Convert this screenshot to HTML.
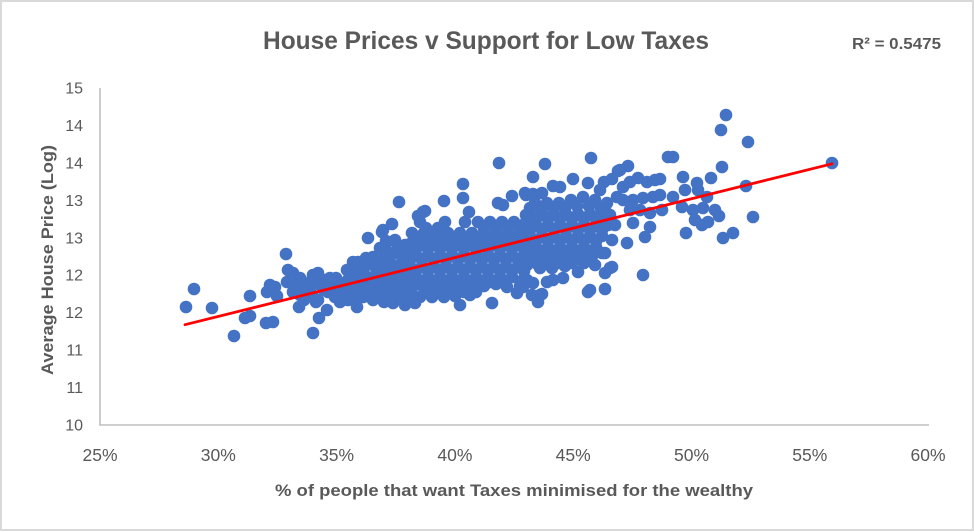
<!DOCTYPE html>
<html>
<head>
<meta charset="utf-8">
<style>
html,body{margin:0;padding:0;background:#fff;}
svg{display:block;}
text{font-family:"Liberation Sans",Arial,sans-serif;fill:#595959;}
</style>
</head>
<body>
<svg width="974" height="532" viewBox="0 0 974 532" xmlns="http://www.w3.org/2000/svg">
<rect x="1" y="1" width="972" height="529" fill="#fff" stroke="#D9D9D9" stroke-width="2"/>
<text x="486" y="49" font-size="25" font-weight="bold" text-anchor="middle" textLength="446" lengthAdjust="spacingAndGlyphs">House Prices v Support for Low Taxes</text>
<text x="852" y="49" font-size="16" font-weight="bold" textLength="89" lengthAdjust="spacingAndGlyphs">R² = 0.5475</text>

<g font-size="16" text-anchor="end">
<text x="83" y="430.5">10</text>
<text x="83" y="393">11</text>
<text x="83" y="355.6">11</text>
<text x="83" y="318.2">12</text>
<text x="83" y="280.7">12</text>
<text x="83" y="243.3">13</text>
<text x="83" y="205.9">13</text>
<text x="83" y="168.4">14</text>
<text x="83" y="131">14</text>
<text x="83" y="93.5">15</text>
</g>
<g font-size="17.5" text-anchor="middle">
<text x="100" y="461">25%</text>
<text x="218.3" y="461">30%</text>
<text x="336.6" y="461">35%</text>
<text x="454.9" y="461">40%</text>
<text x="573.2" y="461">45%</text>
<text x="691.5" y="461">50%</text>
<text x="809.8" y="461">55%</text>
<text x="928" y="461">60%</text>
</g>
<text x="514" y="496" font-size="17" font-weight="bold" text-anchor="middle" textLength="478" lengthAdjust="spacingAndGlyphs">% of people that want Taxes minimised for the wealthy</text>
<text transform="translate(53,260) rotate(-90)" x="0" y="0" font-size="17" font-weight="bold" text-anchor="middle" textLength="230" lengthAdjust="spacingAndGlyphs">Average House Price (Log)</text>

<g stroke="#BFBFBF" stroke-width="1.6" fill="none">
<line x1="100" y1="88" x2="100" y2="425"/>
<line x1="99.2" y1="425" x2="929" y2="425"/>
</g>

<g fill="#4472C4">
<circle cx="186" cy="307" r="6.3"/><circle cx="194" cy="289" r="6.3"/><circle cx="212" cy="308" r="6.3"/><circle cx="234" cy="336" r="6.3"/><circle cx="245" cy="318" r="6.3"/><circle cx="250" cy="316" r="6.3"/><circle cx="250" cy="296" r="6.3"/><circle cx="266" cy="323" r="6.3"/><circle cx="273" cy="322" r="6.3"/><circle cx="267" cy="292" r="6.3"/><circle cx="270" cy="285" r="6.3"/><circle cx="275" cy="287" r="6.3"/><circle cx="277" cy="296" r="6.3"/><circle cx="286" cy="254" r="6.3"/><circle cx="288" cy="270" r="6.3"/><circle cx="293" cy="273" r="6.3"/><circle cx="287" cy="282" r="6.3"/>

<circle cx="298" cy="283" r="6.3"/><circle cx="303" cy="287" r="6.3"/><circle cx="293" cy="292" r="6.3"/><circle cx="309" cy="288" r="6.3"/><circle cx="313" cy="297" r="6.3"/><circle cx="318" cy="300" r="6.3"/><circle cx="313" cy="275" r="6.3"/><circle cx="318" cy="273" r="6.3"/><circle cx="325" cy="280" r="6.3"/><circle cx="330" cy="278" r="6.3"/><circle cx="333" cy="283" r="6.3"/><circle cx="340" cy="285" r="6.3"/><circle cx="323" cy="287" r="6.3"/><circle cx="328" cy="292" r="6.3"/><circle cx="335" cy="297" r="6.3"/><circle cx="342" cy="295" r="6.3"/><circle cx="299" cy="307" r="6.3"/><circle cx="327" cy="310" r="6.3"/><circle cx="319" cy="318" r="6.3"/><circle cx="313" cy="333" r="6.3"/>
<circle cx="300" cy="278" r="6.3"/><circle cx="312" cy="280" r="6.3"/><circle cx="324" cy="290" r="6.3"/><circle cx="336" cy="278" r="6.3"/><circle cx="348" cy="280" r="6.3"/><circle cx="296" cy="290" r="6.3"/><circle cx="308" cy="292" r="6.3"/><circle cx="332" cy="290" r="6.3"/><circle cx="344" cy="290" r="6.3"/><circle cx="304" cy="300" r="6.3"/><circle cx="316" cy="302" r="6.3"/><circle cx="340" cy="302" r="6.3"/><circle cx="348" cy="300" r="6.3"/>
<circle cx="306" cy="284" r="6.3"/><circle cx="318" cy="284" r="6.3"/><circle cx="330" cy="284" r="6.3"/><circle cx="342" cy="284" r="6.3"/><circle cx="300" cy="295" r="6.3"/><circle cx="312" cy="295" r="6.3"/><circle cx="336" cy="295" r="6.3"/>

<circle cx="347" cy="270" r="6.3"/><circle cx="353" cy="262" r="6.3"/><circle cx="358" cy="273" r="6.3"/><circle cx="363" cy="277" r="6.3"/><circle cx="347" cy="292" r="6.3"/><circle cx="355" cy="298" r="6.3"/><circle cx="357" cy="307" r="6.3"/><circle cx="368" cy="238" r="6.3"/><circle cx="382" cy="232" r="6.3"/><circle cx="392" cy="224" r="6.3"/><circle cx="387" cy="242" r="6.3"/><circle cx="373" cy="257" r="6.3"/><circle cx="380" cy="262" r="6.3"/><circle cx="390" cy="253" r="6.3"/><circle cx="398" cy="253" r="6.3"/><circle cx="407" cy="255" r="6.3"/><circle cx="370" cy="283" r="6.3"/><circle cx="380" cy="290" r="6.3"/><circle cx="390" cy="285" r="6.3"/><circle cx="400" cy="280" r="6.3"/><circle cx="407" cy="277" r="6.3"/><circle cx="363" cy="297" r="6.3"/><circle cx="373" cy="300" r="6.3"/><circle cx="393" cy="303" r="6.3"/><circle cx="405" cy="305" r="6.3"/><circle cx="383" cy="273" r="6.3"/><circle cx="393" cy="270" r="6.3"/><circle cx="399" cy="202" r="6.3"/><circle cx="383" cy="290" r="6.3"/><circle cx="398" cy="293" r="6.3"/>
<circle cx="366" cy="258" r="6.3"/><circle cx="384" cy="258" r="6.3"/><circle cx="352" cy="268" r="6.3"/><circle cx="364" cy="268" r="6.3"/><circle cx="376" cy="268" r="6.3"/><circle cx="388" cy="266" r="6.3"/><circle cx="400" cy="268" r="6.3"/><circle cx="410" cy="268" r="6.3"/><circle cx="356" cy="280" r="6.3"/><circle cx="368" cy="280" r="6.3"/><circle cx="380" cy="280" r="6.3"/><circle cx="392" cy="278" r="6.3"/><circle cx="404" cy="288" r="6.3"/><circle cx="352" cy="290" r="6.3"/><circle cx="364" cy="290" r="6.3"/><circle cx="376" cy="292" r="6.3"/><circle cx="388" cy="296" r="6.3"/><circle cx="400" cy="296" r="6.3"/><circle cx="410" cy="292" r="6.3"/><circle cx="384" cy="302" r="6.3"/><circle cx="383" cy="230" r="6.3"/><circle cx="395" cy="240" r="6.3"/><circle cx="405" cy="245" r="6.3"/><circle cx="380" cy="248" r="6.3"/>
<circle cx="358" cy="262" r="6.3"/><circle cx="370" cy="262" r="6.3"/><circle cx="390" cy="262" r="6.3"/><circle cx="402" cy="262" r="6.3"/><circle cx="352" cy="274" r="6.3"/><circle cx="364" cy="274" r="6.3"/><circle cx="376" cy="274" r="6.3"/><circle cx="388" cy="274" r="6.3"/><circle cx="400" cy="274" r="6.3"/><circle cx="358" cy="285" r="6.3"/><circle cx="374" cy="285" r="6.3"/><circle cx="386" cy="285" r="6.3"/><circle cx="398" cy="285" r="6.3"/><circle cx="410" cy="285" r="6.3"/><circle cx="358" cy="297" r="6.3"/><circle cx="370" cy="297" r="6.3"/><circle cx="382" cy="297" r="6.3"/><circle cx="394" cy="297" r="6.3"/><circle cx="406" cy="297" r="6.3"/><circle cx="398" cy="247" r="6.3"/><circle cx="410" cy="250" r="6.3"/>

<circle cx="444" cy="201" r="6.3"/><circle cx="463" cy="198" r="6.3"/><circle cx="463" cy="184" r="6.3"/><circle cx="423" cy="212" r="6.3"/><circle cx="418" cy="216" r="6.3"/><circle cx="386" cy="241" r="6.3"/><circle cx="469" cy="212" r="6.3"/><circle cx="512" cy="196" r="6.3"/><circle cx="526" cy="195" r="6.3"/><circle cx="498" cy="203" r="6.3"/><circle cx="503" cy="205" r="6.3"/><circle cx="526" cy="215" r="6.3"/><circle cx="499" cy="163" r="6.3"/><circle cx="445" cy="222" r="6.3"/><circle cx="425" cy="211" r="6.3"/><circle cx="415" cy="303" r="6.3"/><circle cx="460" cy="305" r="6.3"/><circle cx="492" cy="303" r="6.3"/><circle cx="507" cy="287" r="6.3"/><circle cx="520" cy="286" r="6.3"/><circle cx="527" cy="265" r="6.3"/><circle cx="527" cy="280" r="6.3"/>

<circle cx="420" cy="222" r="6.3"/><circle cx="465" cy="222" r="6.3"/><circle cx="478" cy="222" r="6.3"/><circle cx="490" cy="222" r="6.3"/><circle cx="502" cy="222" r="6.3"/><circle cx="514" cy="222" r="6.3"/><circle cx="526" cy="222" r="6.3"/>
<circle cx="412" cy="233" r="6.3"/><circle cx="424" cy="233" r="6.3"/><circle cx="436" cy="233" r="6.3"/><circle cx="448" cy="233" r="6.3"/><circle cx="460" cy="233" r="6.3"/><circle cx="472" cy="233" r="6.3"/><circle cx="484" cy="233" r="6.3"/><circle cx="496" cy="233" r="6.3"/><circle cx="508" cy="233" r="6.3"/><circle cx="520" cy="233" r="6.3"/>
<circle cx="410" cy="244" r="6.3"/><circle cx="422" cy="244" r="6.3"/><circle cx="434" cy="244" r="6.3"/><circle cx="446" cy="244" r="6.3"/><circle cx="458" cy="244" r="6.3"/><circle cx="470" cy="244" r="6.3"/><circle cx="482" cy="244" r="6.3"/><circle cx="494" cy="244" r="6.3"/><circle cx="506" cy="244" r="6.3"/><circle cx="518" cy="244" r="6.3"/><circle cx="528" cy="244" r="6.3"/>
<circle cx="416" cy="255" r="6.3"/><circle cx="428" cy="255" r="6.3"/><circle cx="440" cy="255" r="6.3"/><circle cx="452" cy="255" r="6.3"/><circle cx="464" cy="255" r="6.3"/><circle cx="476" cy="255" r="6.3"/><circle cx="488" cy="255" r="6.3"/><circle cx="500" cy="255" r="6.3"/><circle cx="512" cy="255" r="6.3"/><circle cx="524" cy="255" r="6.3"/>
<circle cx="410" cy="266" r="6.3"/><circle cx="422" cy="266" r="6.3"/><circle cx="434" cy="266" r="6.3"/><circle cx="446" cy="266" r="6.3"/><circle cx="458" cy="266" r="6.3"/><circle cx="470" cy="266" r="6.3"/><circle cx="482" cy="266" r="6.3"/><circle cx="494" cy="266" r="6.3"/><circle cx="506" cy="266" r="6.3"/><circle cx="518" cy="266" r="6.3"/>
<circle cx="416" cy="277" r="6.3"/><circle cx="428" cy="277" r="6.3"/><circle cx="440" cy="277" r="6.3"/><circle cx="452" cy="277" r="6.3"/><circle cx="464" cy="277" r="6.3"/><circle cx="476" cy="277" r="6.3"/><circle cx="488" cy="277" r="6.3"/><circle cx="500" cy="277" r="6.3"/><circle cx="512" cy="277" r="6.3"/>
<circle cx="412" cy="288" r="6.3"/><circle cx="424" cy="288" r="6.3"/><circle cx="436" cy="288" r="6.3"/><circle cx="448" cy="288" r="6.3"/><circle cx="460" cy="288" r="6.3"/><circle cx="472" cy="288" r="6.3"/><circle cx="484" cy="286" r="6.3"/><circle cx="496" cy="284" r="6.3"/>
<circle cx="420" cy="297" r="6.3"/><circle cx="432" cy="297" r="6.3"/><circle cx="444" cy="297" r="6.3"/><circle cx="455" cy="296" r="6.3"/><circle cx="470" cy="295" r="6.3"/>
<circle cx="426" cy="228" r="6.3"/><circle cx="438" cy="228" r="6.3"/><circle cx="484" cy="228" r="6.3"/><circle cx="496" cy="228" r="6.3"/><circle cx="508" cy="228" r="6.3"/><circle cx="520" cy="228" r="6.3"/>
<circle cx="418" cy="238" r="6.3"/><circle cx="430" cy="238" r="6.3"/><circle cx="442" cy="238" r="6.3"/><circle cx="454" cy="238" r="6.3"/><circle cx="466" cy="238" r="6.3"/><circle cx="478" cy="238" r="6.3"/><circle cx="490" cy="238" r="6.3"/><circle cx="502" cy="238" r="6.3"/><circle cx="514" cy="238" r="6.3"/><circle cx="526" cy="238" r="6.3"/>
<circle cx="416" cy="249" r="6.3"/><circle cx="428" cy="249" r="6.3"/><circle cx="440" cy="249" r="6.3"/><circle cx="452" cy="249" r="6.3"/><circle cx="464" cy="249" r="6.3"/><circle cx="476" cy="249" r="6.3"/><circle cx="488" cy="249" r="6.3"/><circle cx="500" cy="249" r="6.3"/><circle cx="512" cy="249" r="6.3"/><circle cx="524" cy="249" r="6.3"/>
<circle cx="410" cy="260" r="6.3"/><circle cx="422" cy="260" r="6.3"/><circle cx="434" cy="260" r="6.3"/><circle cx="446" cy="260" r="6.3"/><circle cx="458" cy="260" r="6.3"/><circle cx="470" cy="260" r="6.3"/><circle cx="482" cy="260" r="6.3"/><circle cx="494" cy="260" r="6.3"/><circle cx="506" cy="260" r="6.3"/><circle cx="518" cy="260" r="6.3"/>
<circle cx="416" cy="271" r="6.3"/><circle cx="428" cy="271" r="6.3"/><circle cx="440" cy="271" r="6.3"/><circle cx="452" cy="271" r="6.3"/><circle cx="464" cy="271" r="6.3"/><circle cx="476" cy="271" r="6.3"/><circle cx="488" cy="271" r="6.3"/><circle cx="500" cy="271" r="6.3"/><circle cx="512" cy="271" r="6.3"/><circle cx="524" cy="271" r="6.3"/>
<circle cx="418" cy="282" r="6.3"/><circle cx="430" cy="282" r="6.3"/><circle cx="442" cy="282" r="6.3"/><circle cx="454" cy="282" r="6.3"/><circle cx="466" cy="282" r="6.3"/><circle cx="478" cy="282" r="6.3"/><circle cx="490" cy="282" r="6.3"/><circle cx="502" cy="282" r="6.3"/>
<circle cx="428" cy="292" r="6.3"/><circle cx="440" cy="292" r="6.3"/><circle cx="452" cy="292" r="6.3"/><circle cx="464" cy="292" r="6.3"/><circle cx="476" cy="292" r="6.3"/>

<circle cx="545" cy="164" r="6.3"/><circle cx="533" cy="177" r="6.3"/><circle cx="573" cy="179" r="6.3"/><circle cx="620" cy="170" r="6.3"/><circle cx="628" cy="166" r="6.3"/><circle cx="683" cy="177" r="6.3"/><circle cx="604" cy="182" r="6.3"/><circle cx="612" cy="179" r="6.3"/><circle cx="591" cy="158" r="6.3"/><circle cx="673" cy="157" r="6.3"/><circle cx="525" cy="193" r="6.3"/><circle cx="533" cy="194" r="6.3"/><circle cx="542" cy="193" r="6.3"/><circle cx="553" cy="186" r="6.3"/><circle cx="560" cy="187" r="6.3"/><circle cx="588" cy="183" r="6.3"/><circle cx="600" cy="190" r="6.3"/>
<circle cx="538" cy="302" r="6.3"/><circle cx="542" cy="294" r="6.3"/><circle cx="588" cy="292" r="6.3"/><circle cx="605" cy="289" r="6.3"/><circle cx="590" cy="290" r="6.3"/><circle cx="532" cy="295" r="6.3"/><circle cx="540" cy="295" r="6.3"/><circle cx="547" cy="282" r="6.3"/><circle cx="563" cy="278" r="6.3"/><circle cx="578" cy="272" r="6.3"/><circle cx="595" cy="265" r="6.3"/><circle cx="523" cy="280" r="6.3"/><circle cx="533" cy="283" r="6.3"/><circle cx="610" cy="268" r="6.3"/><circle cx="605" cy="273" r="6.3"/><circle cx="523" cy="287" r="6.3"/><circle cx="517" cy="293" r="6.3"/><circle cx="553" cy="280" r="6.3"/><circle cx="602" cy="253" r="6.3"/>
<circle cx="535" cy="203" r="6.3"/><circle cx="547" cy="203" r="6.3"/><circle cx="559" cy="203" r="6.3"/><circle cx="571" cy="200" r="6.3"/><circle cx="583" cy="197" r="6.3"/><circle cx="595" cy="200" r="6.3"/><circle cx="607" cy="203" r="6.3"/>
<circle cx="530" cy="214" r="6.3"/><circle cx="542" cy="214" r="6.3"/><circle cx="554" cy="214" r="6.3"/><circle cx="566" cy="214" r="6.3"/><circle cx="578" cy="214" r="6.3"/><circle cx="590" cy="214" r="6.3"/><circle cx="602" cy="214" r="6.3"/>
<circle cx="536" cy="225" r="6.3"/><circle cx="548" cy="225" r="6.3"/><circle cx="560" cy="225" r="6.3"/><circle cx="572" cy="225" r="6.3"/><circle cx="584" cy="225" r="6.3"/><circle cx="596" cy="225" r="6.3"/><circle cx="608" cy="225" r="6.3"/>
<circle cx="530" cy="236" r="6.3"/><circle cx="542" cy="236" r="6.3"/><circle cx="554" cy="236" r="6.3"/><circle cx="566" cy="236" r="6.3"/><circle cx="578" cy="236" r="6.3"/><circle cx="590" cy="236" r="6.3"/><circle cx="602" cy="236" r="6.3"/>
<circle cx="536" cy="247" r="6.3"/><circle cx="548" cy="247" r="6.3"/><circle cx="560" cy="247" r="6.3"/><circle cx="572" cy="247" r="6.3"/><circle cx="584" cy="247" r="6.3"/><circle cx="596" cy="247" r="6.3"/>
<circle cx="532" cy="258" r="6.3"/><circle cx="544" cy="258" r="6.3"/><circle cx="556" cy="258" r="6.3"/><circle cx="568" cy="258" r="6.3"/><circle cx="580" cy="258" r="6.3"/><circle cx="592" cy="256" r="6.3"/>
<circle cx="540" cy="268" r="6.3"/><circle cx="552" cy="268" r="6.3"/><circle cx="565" cy="266" r="6.3"/>
<circle cx="530" cy="208" r="6.3"/><circle cx="541" cy="208" r="6.3"/><circle cx="553" cy="208" r="6.3"/><circle cx="565" cy="208" r="6.3"/><circle cx="577" cy="206" r="6.3"/><circle cx="589" cy="206" r="6.3"/><circle cx="601" cy="208" r="6.3"/>
<circle cx="536" cy="219" r="6.3"/><circle cx="548" cy="219" r="6.3"/><circle cx="560" cy="219" r="6.3"/><circle cx="572" cy="219" r="6.3"/><circle cx="584" cy="219" r="6.3"/><circle cx="596" cy="219" r="6.3"/><circle cx="608" cy="219" r="6.3"/>
<circle cx="530" cy="230" r="6.3"/><circle cx="542" cy="230" r="6.3"/><circle cx="554" cy="230" r="6.3"/><circle cx="566" cy="230" r="6.3"/><circle cx="578" cy="230" r="6.3"/><circle cx="590" cy="230" r="6.3"/><circle cx="602" cy="230" r="6.3"/>
<circle cx="536" cy="241" r="6.3"/><circle cx="548" cy="241" r="6.3"/><circle cx="560" cy="241" r="6.3"/><circle cx="572" cy="241" r="6.3"/><circle cx="584" cy="241" r="6.3"/><circle cx="596" cy="241" r="6.3"/>
<circle cx="530" cy="252" r="6.3"/><circle cx="542" cy="252" r="6.3"/><circle cx="554" cy="252" r="6.3"/><circle cx="566" cy="252" r="6.3"/><circle cx="578" cy="252" r="6.3"/><circle cx="590" cy="252" r="6.3"/>
<circle cx="536" cy="263" r="6.3"/><circle cx="548" cy="263" r="6.3"/><circle cx="560" cy="263" r="6.3"/><circle cx="572" cy="263" r="6.3"/><circle cx="584" cy="263" r="6.3"/>

<circle cx="623" cy="187" r="6.3"/><circle cx="630" cy="182" r="6.3"/><circle cx="638" cy="178" r="6.3"/><circle cx="647" cy="182" r="6.3"/><circle cx="655" cy="180" r="6.3"/><circle cx="660" cy="179" r="6.3"/><circle cx="618" cy="171" r="6.3"/><circle cx="617" cy="197" r="6.3"/><circle cx="623" cy="200" r="6.3"/><circle cx="633" cy="200" r="6.3"/><circle cx="643" cy="198" r="6.3"/><circle cx="653" cy="197" r="6.3"/><circle cx="630" cy="210" r="6.3"/><circle cx="640" cy="210" r="6.3"/><circle cx="650" cy="213" r="6.3"/><circle cx="662" cy="210" r="6.3"/><circle cx="633" cy="223" r="6.3"/><circle cx="650" cy="227" r="6.3"/><circle cx="645" cy="237" r="6.3"/><circle cx="627" cy="243" r="6.3"/><circle cx="643" cy="275" r="6.3"/><circle cx="605" cy="207" r="6.3"/><circle cx="610" cy="215" r="6.3"/><circle cx="603" cy="227" r="6.3"/><circle cx="615" cy="225" r="6.3"/><circle cx="612" cy="240" r="6.3"/><circle cx="605" cy="253" r="6.3"/><circle cx="612" cy="267" r="6.3"/><circle cx="660" cy="195" r="6.3"/>

<circle cx="726" cy="115" r="6.3"/><circle cx="721" cy="130" r="6.3"/><circle cx="748" cy="142" r="6.3"/><circle cx="832" cy="163" r="6.3"/><circle cx="722" cy="167" r="6.3"/><circle cx="711" cy="178" r="6.3"/><circle cx="746" cy="186" r="6.3"/><circle cx="753" cy="217" r="6.3"/><circle cx="733" cy="233" r="6.3"/><circle cx="723" cy="238" r="6.3"/><circle cx="686" cy="233" r="6.3"/><circle cx="697" cy="183" r="6.3"/><circle cx="685" cy="190" r="6.3"/><circle cx="698" cy="190" r="6.3"/><circle cx="673" cy="197" r="6.3"/><circle cx="682" cy="207" r="6.3"/><circle cx="693" cy="210" r="6.3"/><circle cx="703" cy="208" r="6.3"/><circle cx="707" cy="197" r="6.3"/><circle cx="715" cy="210" r="6.3"/><circle cx="719" cy="216" r="6.3"/><circle cx="695" cy="220" r="6.3"/><circle cx="702" cy="225" r="6.3"/><circle cx="708" cy="222" r="6.3"/><circle cx="668" cy="157" r="6.3"/>
</g>

<line x1="185" y1="324.7" x2="832" y2="163.8" stroke="#FF0000" stroke-width="2.8" stroke-linecap="round"/>
</svg>
</body>
</html>
